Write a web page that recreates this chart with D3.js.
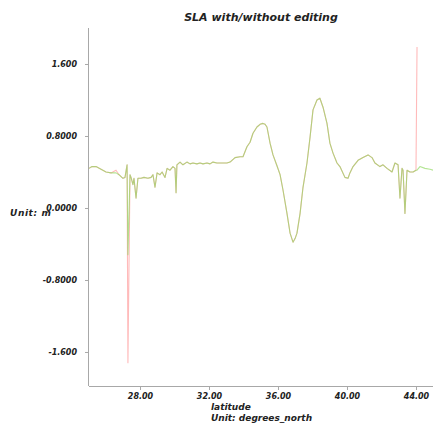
<!DOCTYPE html>
<html>
<head>
<meta charset="utf-8">
<script src="https://cdn.jsdelivr.net/npm/d3@7"></script>
<style>
  html, body { margin: 0; padding: 0; background: #fff; }
  svg { display: block; }
  text { font-family: "DejaVu Sans", sans-serif; font-style: italic; font-weight: bold; fill: #222; }
</style>
</head>
<body>
<svg id="chart" width="433" height="423"></svg>
<script>
// ---- data ----
const latitude = [25.04,25.22,25.45,25.74,26.03,26.32,26.61,26.78,27.01,27.13,27.25,27.30,27.42,27.48,27.59,27.65,27.77,27.88,28.06,28.23,28.46,28.64,28.75,28.87,28.99,29.16,29.28,29.45,29.57,29.74,29.91,30.03,30.09,30.14,30.32,30.49,30.72,30.90,31.07,31.30,31.48,31.65,31.88,32.06,32.23,32.46,32.75,33.04,33.22,33.51,33.80,33.97,34.20,34.38,34.55,34.78,34.96,35.13,35.25,35.36,35.54,35.71,35.94,36.12,36.29,36.52,36.70,36.87,36.99,37.10,37.28,37.45,37.68,37.86,38.03,38.26,38.43,38.61,38.84,39.01,39.19,39.42,39.59,39.88,40.06,40.17,40.35,40.64,40.93,41.22,41.45,41.62,41.91,42.09,42.32,42.61,42.78,42.96,43.07,43.19,43.25,43.36,43.48,43.65,43.83,44.00,44.06,44.23,44.52,44.81,44.99];
// SLA with editing (green)
const slaEdited = [0.44,0.46,0.46,0.43,0.40,0.39,0.39,0.37,0.33,0.34,0.48,-0.52,0.37,0.34,0.26,0.33,0.11,0.33,0.33,0.34,0.33,0.34,0.37,0.23,0.39,0.37,0.40,0.34,0.44,0.42,0.46,0.44,0.17,0.48,0.51,0.48,0.51,0.49,0.50,0.49,0.50,0.49,0.50,0.49,0.51,0.50,0.50,0.50,0.51,0.56,0.57,0.57,0.68,0.73,0.83,0.90,0.93,0.94,0.93,0.90,0.72,0.59,0.47,0.37,0.20,-0.06,-0.28,-0.38,-0.34,-0.28,-0.06,0.23,0.50,0.79,1.09,1.20,1.22,1.12,0.94,0.72,0.61,0.50,0.46,0.34,0.33,0.39,0.46,0.53,0.56,0.59,0.56,0.50,0.46,0.48,0.44,0.40,0.50,0.48,0.11,0.44,0.42,-0.06,0.42,0.40,0.40,0.42,0.42,0.46,0.44,0.43,0.42];
// SLA without editing (red)
const slaRaw = [0.44,0.46,0.46,0.43,0.40,0.39,0.42,0.37,0.33,0.34,0.48,-1.72,0.37,0.34,0.26,0.33,0.11,0.33,0.33,0.34,0.33,0.34,0.37,0.23,0.39,0.37,0.40,0.34,0.44,0.42,0.46,0.44,0.17,0.48,0.51,0.48,0.51,0.49,0.50,0.49,0.50,0.49,0.50,0.49,0.51,0.50,0.50,0.50,0.51,0.56,0.57,0.57,0.68,0.73,0.83,0.90,0.93,0.94,0.93,0.90,0.72,0.59,0.47,0.37,0.20,-0.06,-0.28,-0.38,-0.34,-0.28,-0.06,0.23,0.50,0.79,1.09,1.20,1.22,1.12,0.94,0.72,0.61,0.50,0.46,0.34,0.33,0.39,0.46,0.53,0.56,0.59,0.56,0.50,0.46,0.48,0.44,0.40,0.50,0.48,0.11,0.44,0.42,-0.06,0.42,0.40,0.40,0.42,1.79,null,null,null,null];

const xTicks = [28, 32, 36, 40, 44];
const xTickLabels = ["28.00", "32.00", "36.00", "40.00", "44.00"];
const yTicks = [-1.6, -0.8, 0, 0.8, 1.6];
const yTickLabels = ["-1.600", "-0.8000", "0.0000", "0.8000", "1.600"];

const title = "SLA with/without editing";
const yLabel = "Unit: m";
const xLabel1 = "latitude";
const xLabel2 = "Unit: degrees_north";

// ---- layout ----
const svg = d3.select("#chart");
const plotLeft = 89, plotRight = 433, plotTop = 28, plotBottom = 386;

const x = d3.scaleLinear().domain([25.043, 44.986]).range([plotLeft, plotRight]);
const y = d3.scaleLinear().domain([-1.978, 2.0]).range([plotBottom, plotTop]);

// axes
const xAxis = d3.axisBottom(x).tickValues(xTicks).tickSize(4)
  .tickFormat((d, i) => xTickLabels[i]);
const yAxis = d3.axisLeft(y).tickValues(yTicks).tickSize(4)
  .tickFormat((d, i) => yTickLabels[i]);

const gx = svg.append("g").attr("transform", `translate(0,${plotBottom})`).call(xAxis);
gx.select(".domain").attr("stroke", "#a8a8a8").attr("d", `M${plotLeft},0.5H${plotRight}`);
gx.selectAll(".tick line").attr("stroke", "#a8a8a8");
gx.selectAll(".tick text").attr("dy", "0.9em").attr("y", 6)
  .style("font-size", "8px").attr("fill", "#222");

const gy = svg.append("g").attr("transform", `translate(${plotLeft},0)`).call(yAxis);
gy.select(".domain").attr("stroke", "#a8a8a8").attr("d", `M-0.5,${plotTop}V${plotBottom}`);
gy.selectAll(".tick line").attr("stroke", "#a8a8a8");
gy.selectAll(".tick text").attr("x", -12)
  .style("font-size", "8px").attr("fill", "#222");

// lines
const rawData = latitude.map((d, i) => ({ lat: d, v: slaRaw[i] }));
const editData = latitude.map((d, i) => ({ lat: d, v: slaEdited[i] }));
const line = d3.line().defined(d => d.v !== null).x(d => x(d.lat)).y(d => y(d.v));

svg.append("path").datum(rawData).attr("d", line)
  .attr("fill", "none").attr("stroke", "rgb(255,130,130)").attr("stroke-opacity", 0.55)
  .attr("stroke-width", 1.1).attr("stroke-linejoin", "round");
svg.append("path").datum(editData).attr("d", line)
  .attr("fill", "none").attr("stroke", "rgb(140,215,90)").attr("stroke-opacity", 0.65)
  .attr("stroke-width", 1.1).attr("stroke-linejoin", "round");

// titles
svg.append("text").attr("x", 261).attr("y", 21).attr("text-anchor", "middle")
  .style("font-size", "11px").text(title);
svg.append("text").attr("x", 10).attr("y", 216)
  .style("font-size", "9px").style("letter-spacing", "0.6px").text(yLabel);
svg.append("text").attr("x", 211).attr("y", 410)
  .style("font-size", "9px").text(xLabel1);
svg.append("text").attr("x", 211).attr("y", 421)
  .style("font-size", "9px").text(xLabel2);
</script>
</body>
</html>
